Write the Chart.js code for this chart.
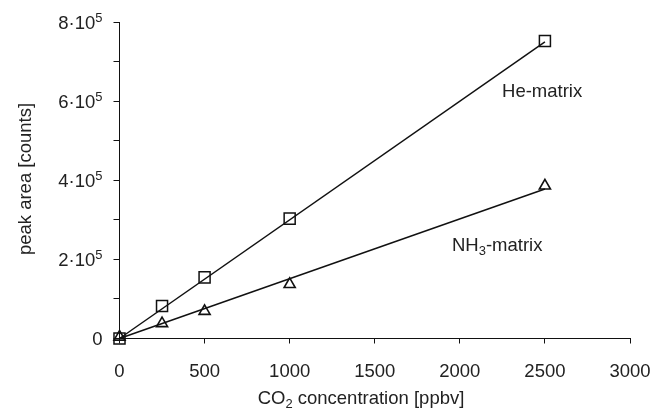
<!DOCTYPE html>
<html>
<head>
<meta charset="utf-8">
<script src="https://cdn.jsdelivr.net/npm/chart.js@4.4.1/dist/chart.umd.min.js"></script>
<style>
  html, body { margin: 0; padding: 0; background: #fff; }
  #wrap { width: 651px; height: 416px; }
</style>
</head>
<body>
<div id="wrap"><canvas id="co2Chart" width="651" height="416"></canvas></div>
<script>
// measured points (CO2 concentration in ppbv)
const concentrations = [0, 250, 500, 1000, 2500];
const heMatrix = [0, 82000, 154500, 303000, 752000];
const nh3Matrix = [4000, 38000, 69000, 137000, 386000];

// linear fit lines
const fitRange = [0, 2500];
const heFit = [0, 750000];
const nh3Fit = [0, 378000];

const xTickStep = 500;
const yTickStep = 100000; // minor ticks, labels every 2nd
const yLabelStep = 200000;

const FONT = "'Liberation Sans', Arial, Helvetica, sans-serif";
const TXT = "#222";
const FS = 18.5;

const toPoints = (xs, ys) => xs.map((x, i) => ({ x: x, y: ys[i] }));

// draws text made of normal / sub / sup pieces
function richText(ctx, parts, x, y, size, align) {
  ctx.save();
  ctx.textBaseline = "alphabetic";
  ctx.textAlign = "left";
  const fontOf = p => (p.sub || p.sup ? size * 0.7 : size) + "px " + FONT;
  let total = 0;
  parts.forEach(p => {
    ctx.font = fontOf(p);
    total += ctx.measureText(p.t).width;
  });
  let cx = x;
  if (align === "center") cx = x - total / 2;
  if (align === "right") cx = x - total;
  parts.forEach(p => {
    ctx.font = fontOf(p);
    let dy = 0;
    if (p.sub) dy = size * 0.22;
    if (p.sup) dy = -size * 0.38;
    ctx.fillText(p.t, cx, y + dy);
    cx += ctx.measureText(p.t).width;
  });
  ctx.restore();
}

const labelsPlugin = {
  id: "labels",
  afterDraw(chart) {
    const ctx = chart.ctx;
    const xs = chart.scales.x, ys = chart.scales.y;
    ctx.fillStyle = TXT;
    // y tick labels with superscript exponent
    ys.ticks.forEach(t => {
      if (t.value % yLabelStep !== 0) return;
      const py = ys.getPixelForValue(t.value) + FS * 0.36;
      const parts = t.value === 0 ? [{ t: "0" }]
        : [{ t: (t.value / 100000) + "\u00b710" }, { t: "5", sup: true }];
      richText(ctx, parts, ys.right - 17, py, FS, "right");
    });
    // axis titles
    richText(ctx, [{ t: "CO" }, { t: "2", sub: true }, { t: " concentration [ppbv]" }], 361, 404, FS, "center");
    ctx.save();
    ctx.translate(31, 179);
    ctx.rotate(-Math.PI / 2);
    richText(ctx, [{ t: "peak area [counts]" }], 0, 0, FS, "center");
    ctx.restore();
    // series labels
    richText(ctx, [{ t: "He-matrix" }], xs.getPixelForValue(2248), ys.getPixelForValue(6.1e5), FS, "left");
    richText(ctx, [{ t: "NH" }, { t: "3", sub: true }, { t: "-matrix" }], xs.getPixelForValue(1954), ys.getPixelForValue(2.22e5), FS, "left");
  }
};

new Chart(document.getElementById("co2Chart"), {
  type: "scatter",
  data: {
    datasets: [
      {
        label: "He-matrix fit",
        data: toPoints(fitRange, heFit),
        showLine: true,
        borderColor: "#111",
        borderWidth: 1.5,
        pointRadius: 0,
        clip: false
      },
      {
        label: "NH3-matrix fit",
        data: toPoints(fitRange, nh3Fit),
        showLine: true,
        borderColor: "#111",
        borderWidth: 1.5,
        pointRadius: 0,
        clip: false
      },
      {
        label: "He-matrix",
        data: toPoints(concentrations, heMatrix),
        pointStyle: "rect",
        pointRadius: 7.8,
        pointBorderWidth: 1.5,
        pointBorderColor: "#111",
        pointBackgroundColor: "rgba(255,255,255,0)",
        clip: false
      },
      {
        label: "NH3-matrix",
        data: toPoints(concentrations, nh3Matrix),
        pointStyle: "triangle",
        pointRadius: 6.4,
        pointBorderWidth: 1.6,
        pointBorderColor: "#111",
        pointBackgroundColor: "rgba(255,255,255,0)",
        clip: false
      }
    ]
  },
  options: {
    responsive: false,
    animation: false,
    events: [],
    layout: { padding: { left: 0, top: 22, right: 0, bottom: 0 } },
    plugins: {
      legend: { display: false },
      tooltip: { enabled: false }
    },
    scales: {
      x: {
        type: "linear",
        min: 0,
        max: 3000,
        afterFit: s => { s.height = 77.5; s.paddingRight = 21; s.paddingLeft = 0; },
        ticks: {
          stepSize: xTickStep,
          padding: 17,
          color: TXT,
          font: { family: FONT, size: FS },
          callback: v => String(v)
        },
        grid: { drawOnChartArea: false, drawTicks: true, tickLength: 5, tickColor: "#111", tickWidth: 1 },
        border: { display: true, color: "#111", width: 1 }
      },
      y: {
        type: "linear",
        min: 0,
        max: 800000,
        afterFit: s => { s.width = 119.5; },
        ticks: {
          stepSize: yTickStep,
          padding: 10,
          callback: () => ""
        },
        grid: { drawOnChartArea: false, drawTicks: true, tickLength: 6, tickColor: "#111", tickWidth: 1 },
        border: { display: true, color: "#111", width: 1 }
      }
    }
  },
  plugins: [labelsPlugin]
});
</script>
</body>
</html>
